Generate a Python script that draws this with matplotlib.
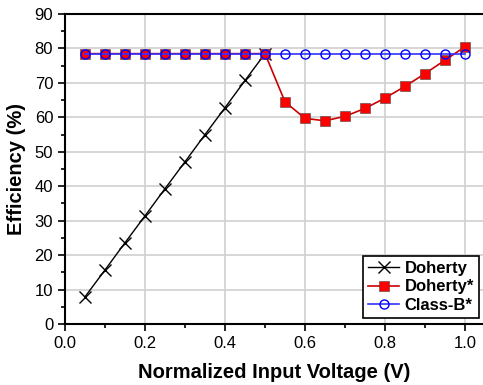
import matplotlib
matplotlib.use("Agg")
import matplotlib.pyplot as plt
from matplotlib.ticker import MultipleLocator

plt.rcParams["font.family"] = ["Liberation Sans", "DejaVu Sans"]

voltage = [0.05, 0.10, 0.15, 0.20, 0.25, 0.30, 0.35, 0.40, 0.45, 0.50,
           0.55, 0.60, 0.65, 0.70, 0.75, 0.80, 0.85, 0.90, 0.95, 1.00]
doherty_v = voltage[:10]
doherty = [7.9, 15.7, 23.6, 31.4, 39.3, 47.1, 55.0, 62.8, 70.7, 78.5]
doherty_star = [78.5] * 10 + [64.5, 59.7, 59.0, 60.3, 62.6, 65.6, 69.0, 72.7, 76.6, 80.5]
class_b = [78.5] * 20

fig = plt.figure(figsize=(4.83, 3.85), dpi=100)
ax = fig.add_axes([0.1346, 0.1584, 0.8654, 0.8052])

ax.grid(True, color="#d0d0d0", linewidth=1.2, zorder=0)
ax.plot(doherty_v, doherty, color="black", linewidth=1, marker="x",
        markersize=8, markeredgewidth=1, label="Doherty", zorder=3)
ax.plot(voltage, doherty_star, color="#cc0000", linewidth=1.2, marker="s",
        markersize=7.5, markerfacecolor="red", markeredgecolor="#444444",
        markeredgewidth=0.4, label="Doherty*", zorder=4)
ax.plot(voltage, class_b, color="#3333ff", linewidth=1.2, marker="o",
        markersize=6.5, markerfacecolor="none", markeredgecolor="blue",
        markeredgewidth=1, label="Class-B*", zorder=5)

ax.set_xlim(0, 1.045)
ax.set_ylim(0, 90)
ax.xaxis.set_major_locator(MultipleLocator(0.2))
ax.xaxis.set_minor_locator(MultipleLocator(0.1))
ax.yaxis.set_major_locator(MultipleLocator(10))
ax.yaxis.set_minor_locator(MultipleLocator(5))
ax.xaxis.set_major_formatter(plt.FormatStrFormatter("%.1f"))
ax.tick_params(which="both", direction="out", width=1.2, labelsize=12)
ax.tick_params(which="major", length=5)
ax.tick_params(which="minor", length=3)
ax.spines["right"].set_visible(False)
for s in ["left", "bottom", "top"]:
    ax.spines[s].set_linewidth(1.5)

ax.set_xlabel("Normalized Input Voltage (V)", fontsize=14.5, fontweight="bold",
              labelpad=9)
ax.set_ylabel("Efficiency (%)", fontsize=14.5, fontweight="bold", labelpad=6)

leg = ax.legend(loc="lower right", bbox_to_anchor=(0.99, 0.02), fancybox=False,
                framealpha=1, edgecolor="black", prop={"weight": "bold", "size": 12},
                handlelength=1.9, handletextpad=0.3, borderpad=0.3,
                labelspacing=0.2, borderaxespad=0)
leg.get_frame().set_linewidth(1.2)

fig.savefig("out.png", dpi=100)
